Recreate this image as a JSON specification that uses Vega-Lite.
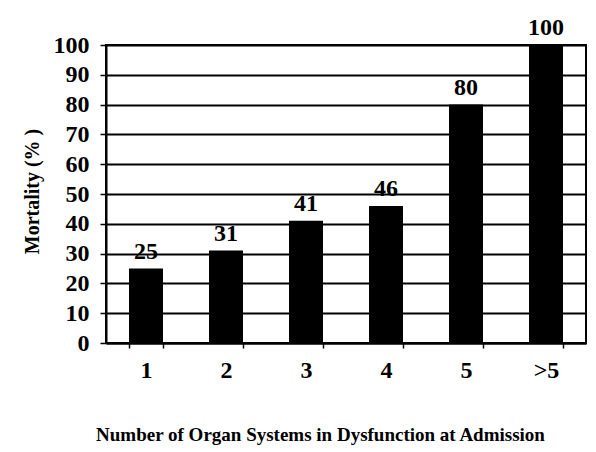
{
  "$schema": "https://vega.github.io/schema/vega-lite/v6.json",
  "autosize": {"type": "none"},
  "width": 480,
  "height": 298,
  "padding": {"left": 106, "top": 45, "right": 10, "bottom": 109},
  "background": "white",
  "config": {
    "font": "Liberation Serif",
    "view": {"stroke": "black", "strokeWidth": 2},
    "axis": {
      "labelFont": "Liberation Serif",
      "labelFontWeight": "bold",
      "labelFontSize": 24,
      "labelColor": "black",
      "titleFont": "Liberation Serif",
      "titleFontWeight": "bold",
      "titleFontSize": 19,
      "titleColor": "black",
      "domainColor": "black",
      "domainWidth": 2,
      "tickColor": "black",
      "tickWidth": 1.5,
      "gridColor": "black",
      "gridWidth": 2,
      "gridOpacity": 1
    }
  },
  "data": {
    "values": [
      {"n": "1", "mortality": 25},
      {"n": "2", "mortality": 31},
      {"n": "3", "mortality": 41},
      {"n": "4", "mortality": 46},
      {"n": "5", "mortality": 80},
      {"n": ">5", "mortality": 100}
    ]
  },
  "encoding": {
    "x": {
      "field": "n",
      "type": "nominal",
      "sort": null,
      "scale": {"paddingInner": 0.575, "paddingOuter": 0.2875},
      "axis": {
        "title": "Number of Organ Systems in Dysfunction at Admission",
        "labelAngle": 0,
        "tickBand": "extent",
        "tickSize": 5,
        "labelPadding": 10,
        "titleX": 214,
        "titleY": 97,
        "titleBaseline": "alphabetic",
        "titleAnchor": null,
        "titleAlign": "center"
      }
    },
    "y": {
      "field": "mortality",
      "type": "quantitative",
      "scale": {"domain": [0, 100]},
      "axis": {
        "title": "Mortality (% )",
        "values": [0, 10, 20, 30, 40, 50, 60, 70, 80, 90, 100],
        "tickSize": 6,
        "labelPadding": 11,
        "grid": true,
        "titleX": -68,
        "titleY": 146,
        "titleAngle": -90,
        "titleAlign": "center",
        "titleBaseline": "alphabetic",
        "titleFontSize": 20
      }
    }
  },
  "layer": [
    {"mark": {"type": "bar", "color": "black"}},
    {
      "mark": {"type": "text", "dy": -10, "baseline": "alphabetic", "font": "Liberation Serif", "fontWeight": "bold", "fontSize": 24, "color": "black"},
      "encoding": {"text": {"field": "mortality", "type": "quantitative"}}
    }
  ]
}
